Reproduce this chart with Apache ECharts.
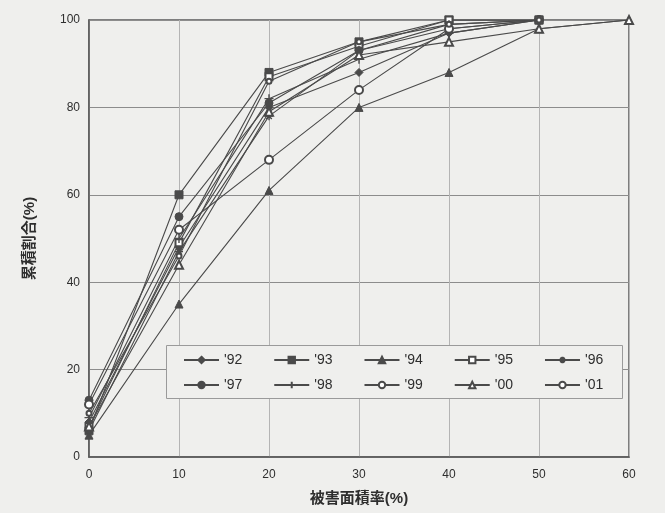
<!DOCTYPE html>
<html>
<head>
<meta charset="utf-8">
<script src="https://cdn.jsdelivr.net/npm/echarts@6/dist/echarts.min.js"></script>
<style>
  html, body { margin: 0; padding: 0; background: #efefed; }
  #chart { width: 665px; height: 513px; }
</style>
</head>
<body>
<div id="chart"></div>
<script>
// Damage area ratio (%) on the x axis
const damageRatio = [0, 10, 20, 30, 40, 50, 60];

// Year labels shown in the legend
const years = ["'92", "'93", "'94", "'95", "'96", "'97", "'98", "'99", "'00", "'01"];

// Cumulative ratio (%) per year, one value per damage ratio step
const y92 = [8, 48, 80, 88, 97, 100];
const y93 = [6, 60, 88, 95, 100, 100];
const y94 = [5, 35, 61, 80, 88, 98, 100];
const y95 = [7, 49, 87, 94, 100, 100];
const y96 = [6, 47, 78, 93, 99, 100];
const y97 = [13, 55, 81, 93, 98, 100];
const y98 = [9, 50, 82, 91, 97, 100];
const y99 = [12, 52, 68, 84, 98, 100];
const y00 = [7, 44, 79, 92, 95, 98, 100];
const y01 = [10, 46, 86, 95, 99, 100];

const seriesValues = [y92, y93, y94, y95, y96, y97, y98, y99, y00, y01];

// Axis ticks
const xTicks = { min: 0, max: 60, interval: 10 };
const yTicks = { min: 0, max: 100, interval: 20 };

// Marker shapes per year
const ASTERISK = 'path://M0,5L10,5M5,0L5,10M1.5,1.5L8.5,8.5M8.5,1.5L1.5,8.5';
const PLUS = 'path://M0,5L10,5M5,0L5,10';
const markers = [
  { symbol: 'diamond', size: 8 },
  { symbol: 'rect', size: 8 },
  { symbol: 'triangle', size: 8 },
  { symbol: 'emptyRect', size: 7 },
  { symbol: ASTERISK, size: 8, stroke: true },
  { symbol: 'circle', size: 8 },
  { symbol: PLUS, size: 9, stroke: true },
  { symbol: 'emptyCircle', size: 8 },
  { symbol: 'emptyTriangle', size: 8 },
  { symbol: 'emptyCircle', size: 5 }
];

const LINE = '#4a4a4a';
const TEXT = '#2e2e2e';
const FONT = '"Liberation Sans", "Noto Sans CJK JP", sans-serif';

const series = years.map(function (name, i) {
  const m = markers[i];
  return {
    name: name,
    type: 'line',
    data: seriesValues[i].map(function (v, k) { return [damageRatio[k], v]; }),
    symbol: m.symbol,
    symbolSize: m.size,
    showAllSymbol: true,
    lineStyle: { color: LINE, width: 1.1 },
    itemStyle: m.stroke
      ? { color: LINE, borderColor: LINE, borderWidth: 1.4 }
      : { color: LINE, borderColor: LINE, borderWidth: 1 },
    emphasis: { disabled: true },
    animation: false,
    z: 3
  };
});

function legendFor(names, top) {
  return {
    data: names,
    left: 183,
    top: top,
    orient: 'horizontal',
    padding: 0,
    itemWidth: 35,
    itemHeight: 8,
    itemGap: 31,
    selectedMode: false,
    z: 6,
    textStyle: { color: TEXT, fontSize: 14, fontFamily: FONT, width: 25 }
  };
}

const chart = echarts.init(document.getElementById('chart'), null, { renderer: 'canvas' });
chart.setOption({
  backgroundColor: '#efefed',
  animation: false,
  grid: {
    left: 89, right: 36, top: 20, bottom: 56,
    show: true, borderColor: '#5a5a5a', borderWidth: 1.5,
    backgroundColor: 'transparent'
  },
  xAxis: {
    type: 'value',
    min: xTicks.min, max: xTicks.max, interval: xTicks.interval,
    name: '被害面積率(%)',
    nameLocation: 'middle',
    nameGap: 34,
    nameTextStyle: { color: TEXT, fontSize: 15, fontWeight: 'bold', fontFamily: FONT },
    axisLine: { show: true, lineStyle: { color: '#5a5a5a', width: 1.5 } },
    axisTick: { show: false },
    axisLabel: { color: TEXT, fontSize: 12, fontFamily: FONT, margin: 12 },
    splitLine: { show: true, lineStyle: { color: '#b4b4b4', width: 1 } }
  },
  yAxis: {
    type: 'value',
    min: yTicks.min, max: yTicks.max, interval: yTicks.interval,
    name: '累積割合(%)',
    nameLocation: 'middle',
    nameGap: 52,
    nameTextStyle: { color: TEXT, fontSize: 15, fontWeight: 'bold', fontFamily: FONT },
    axisLine: { show: true, lineStyle: { color: '#5a5a5a', width: 1.5 } },
    axisTick: { show: false },
    axisLabel: { color: TEXT, fontSize: 12, fontFamily: FONT, margin: 9 },
    splitLine: { show: true, lineStyle: { color: '#8c8c8c', width: 1 } }
  },
  graphic: [{
    type: 'rect',
    left: 166, top: 345,
    shape: { width: 456, height: 53 },
    style: { fill: '#efefed', stroke: '#9a9a9a', lineWidth: 1 },
    z: 4
  }],
  legend: [
    legendFor(years.slice(0, 5), 353),
    legendFor(years.slice(5), 378)
  ],
  series: series
});
</script>
</body>
</html>
